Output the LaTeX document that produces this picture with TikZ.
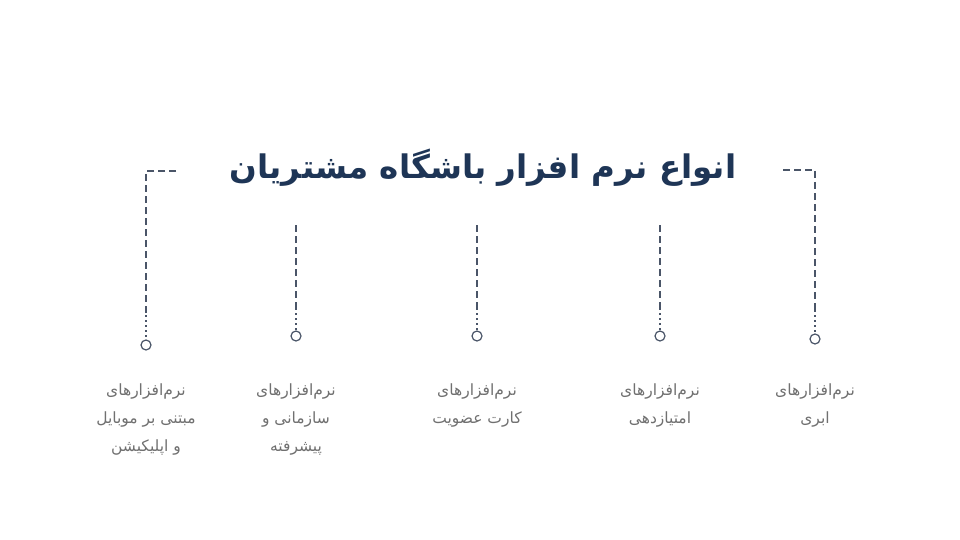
\documentclass[tikz,border=0pt]{standalone}
\usepackage{fontspec}
\usepackage{tikz}
\usetikzlibrary{positioning}
\TeXXeTstate=1
\newfontfamily\arabicfont[Script=Arabic]{DejaVu Sans}
\definecolor{titleblue}{HTML}{1E3556}
\definecolor{linegray}{HTML}{4A5568}
\definecolor{labelgray}{HTML}{707070}
\tikzstyle{title} = [font=\arabicfont\bfseries\fontsize{32.5}{38}\selectfont, text=titleblue]
\tikzstyle{dot} = [circle, draw=linegray, line width=1.2pt, fill=white,
    minimum size=10pt, inner sep=0pt]
\tikzstyle{label} = [text=labelgray, align=center,
    font=\arabicfont\fontsize{15.5}{28}\selectfont]
\tikzstyle{dashline} = [linegray, line width=1.25pt, dash pattern=on 7pt off 4pt]
\tikzstyle{dotline} = [linegray, line width=1.4pt, dash pattern=on 1.5pt off 3.5pt]

\begin{document}
\begin{tikzpicture}[x=1pt, y=-1pt]
            \useasboundingbox[fill=white] (0,0) rectangle (960,540);
            % Title
            \node[title] (head) at (483,168) {\beginR انواع نرم افزار باشگاه مشتریان\endR};
            % Dots
            \node[dot] (mob) at (146,345) {};
            \node[dot] (org) at (296,336) {};
            \node[dot] (card) at (477,336) {};
            \node[dot] (score) at (660,336) {};
            \node[dot] (cloud) at (815,339) {};
            % Line ends
            \coordinate (mobtop) at (146,171);
            \coordinate (mobend) at (176,171);
            \coordinate (cloudtop) at (815,170);
            \coordinate (cloudend) at (783,170);
            \coordinate (orgtop) at (296,225);
            \coordinate (cardtop) at (477,225);
            \coordinate (scoretop) at (660,225);
            \coordinate (mobmid) at (146,315);
            \coordinate (orgmid) at (296,308);
            \coordinate (cardmid) at (477,308);
            \coordinate (scoremid) at (660,308);
            \coordinate (cloudmid) at (815,310);
            % Labels
            \node[label, below=30pt of mob] (mobtext)
            {\beginR نرم‌افزارهای\endR\\\beginR مبتنی بر موبایل\endR\\\beginR و اپلیکیشن\endR};
            \node[label, below=39pt of org] (orgtext)
            {\beginR نرم‌افزارهای\endR\\\beginR سازمانی و\endR\\\beginR پیشرفته\endR};
            \node[label, below=39pt of card] (cardtext)
            {\beginR نرم‌افزارهای\endR\\\beginR کارت عضویت\endR};
            \node[label, below=39pt of score] (scoretext)
            {\beginR نرم‌افزارهای\endR\\\beginR امتیازدهی\endR};
            \node[label, below=36pt of cloud] (cloudtext)
            {\beginR نرم‌افزارهای\endR\\\beginR ابری\endR};
            % Lines
            \draw[dashline] (mobend) -- (mobtop) -- (mobmid);
            \draw[dotline] (mobmid) -- (mob);
            \draw[dashline] (cloudend) -- (cloudtop) -- (cloudmid);
            \draw[dotline] (cloudmid) -- (cloud);
            \draw[dashline] (orgtop) -- (orgmid);
            \draw[dotline] (orgmid) -- (org);
            \draw[dashline] (cardtop) -- (cardmid);
            \draw[dotline] (cardmid) -- (card);
            \draw[dashline] (scoretop) -- (scoremid);
            \draw[dotline] (scoremid) -- (score);

        \end{tikzpicture}
\end{document}
